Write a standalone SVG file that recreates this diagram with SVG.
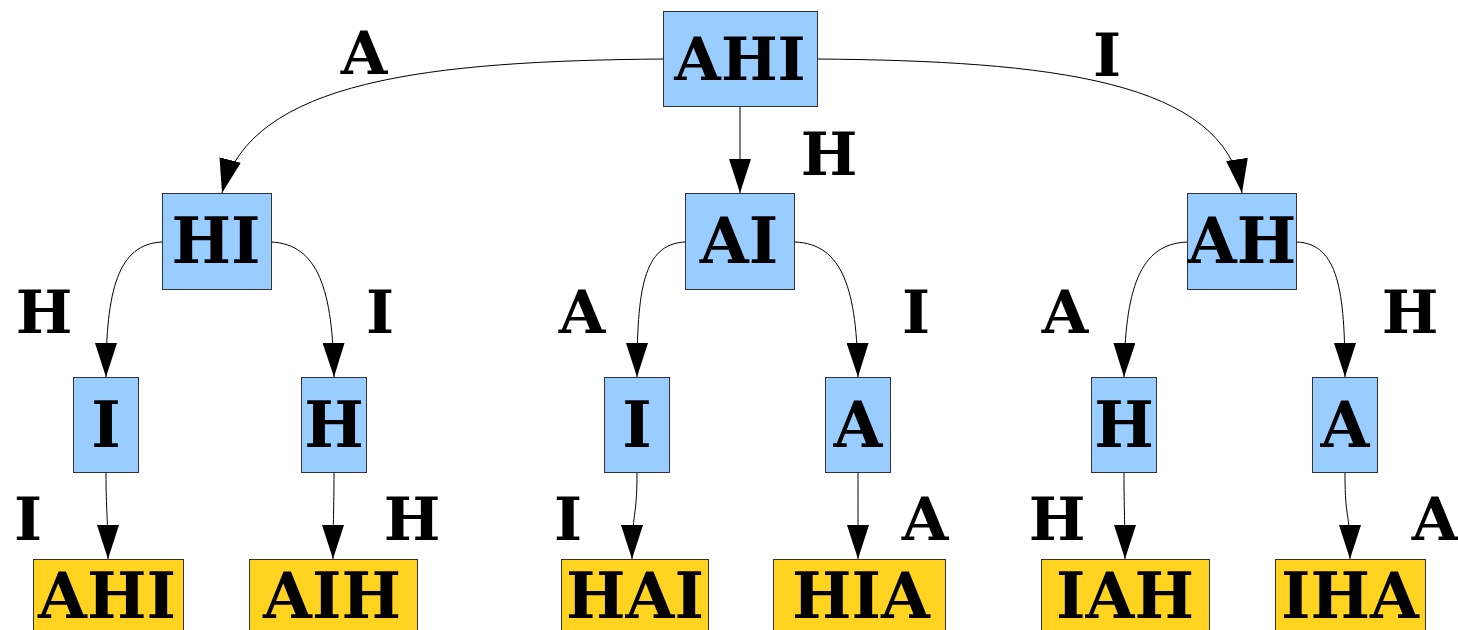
<svg xmlns="http://www.w3.org/2000/svg" width="1458" height="630" viewBox="0 0 1458 630">
  <style>
    .n rect { fill: #99ccff; stroke: #333; stroke-width: 1; }
    .leaf rect { fill: #ffd320; stroke: #333; stroke-width: 1; }
    text { font-family: "DejaVu Serif", serif; font-weight: bold; font-size: 63px; fill: #000; text-anchor: middle; }
    #labels text, #n-AHI text { font-size: 60px; }
    .e path { fill: none; stroke: #000; stroke-width: 1; marker-end: url(#ah); }
  </style>
  <defs>
    <marker id="ah" viewBox="0 0 34 22" refX="34" refY="11" markerWidth="34" markerHeight="22" markerUnits="userSpaceOnUse" orient="auto">
      <path d="M0,0 L34,11 L0,22 Z" fill="#000"/>
    </marker>
  </defs>
  <rect width="1458" height="630" fill="#fff"/>

  <!-- connectors -->
  <g id="edges" class="e">
    <path d="M663,59 C430,61 250,80 222,193"/>
    <path d="M740,107 L740,193"/>
    <path d="M817,59 C1050,61 1225,80 1242,193"/>

    <path d="M162,242 C118,244 106,290 106,377"/>
    <path d="M271,242 C318,244 333,290 334,377"/>
    <path d="M685,242 C643,244 637,290 637,377"/>
    <path d="M795,242 C843,244 857,290 858,377"/>
    <path d="M1187,242 C1139,244 1125,290 1124,377"/>
    <path d="M1297,242 C1338,244 1345,290 1345,377"/>

    <path d="M106,473 C106,510 108,520 108,559"/>
    <path d="M334,473 C334,510 333,520 333,559"/>
    <path d="M637,473 C637,520 632,510 632,559"/>
    <path d="M858,473 C858,510 858,520 858,559"/>
    <path d="M1124,473 C1124,510 1125,520 1125,559"/>
    <path d="M1345,473 C1345,525 1350,505 1350,559"/>
  </g>

  <!-- edge labels -->
  <g id="labels">
    <text x="364" y="74">A</text>
    <text x="829" y="175">H</text>
    <text x="1107" y="76">I</text>
    <text x="44" y="333">H</text>
    <text x="380" y="333">I</text>
    <text x="582" y="333">A</text>
    <text x="916" y="333">I</text>
    <text x="1065" y="333">A</text>
    <text x="1410" y="333">H</text>
    <text x="28" y="540">I</text>
    <text x="412" y="540">H</text>
    <text x="568" y="540">I</text>
    <text x="925" y="540">A</text>
    <text x="1057" y="540">H</text>
    <text x="1435" y="540">A</text>
  </g>

  <!-- root -->
  <g id="n-AHI" class="n"><rect x="663.5" y="11.5" width="154" height="95"/><text x="740" y="80">AHI</text></g>

  <!-- second level -->
  <g id="n-HI" class="n"><rect x="162.5" y="193.5" width="109" height="96"/><text x="216" y="263">HI</text></g>
  <g id="n-AI" class="n"><rect x="685.5" y="193.5" width="109" height="96"/><text x="739" y="263">AI</text></g>
  <g id="n-AH" class="n"><rect x="1187.5" y="193.5" width="109" height="96"/><text x="1242" y="263">AH</text></g>

  <!-- third level -->
  <g id="n-HI-I" class="n"><rect x="73.5" y="377.5" width="65" height="95"/><text x="106" y="447">I</text></g>
  <g id="n-HI-H" class="n"><rect x="301.5" y="377.5" width="65" height="95"/><text x="334" y="447">H</text></g>
  <g id="n-AI-I" class="n"><rect x="604.5" y="377.5" width="65" height="95"/><text x="637" y="447">I</text></g>
  <g id="n-AI-A" class="n"><rect x="825.5" y="377.5" width="65" height="95"/><text x="858" y="447">A</text></g>
  <g id="n-AH-H" class="n"><rect x="1091.5" y="377.5" width="65" height="95"/><text x="1124" y="447">H</text></g>
  <g id="n-AH-A" class="n"><rect x="1312.5" y="377.5" width="65" height="95"/><text x="1345" y="447">A</text></g>

  <!-- leaves -->
  <g id="leaf-AHI" class="leaf"><rect x="33.5" y="559.5" width="150" height="90"/><text x="107" y="618">AHI</text></g>
  <g id="leaf-AIH" class="leaf"><rect x="249.5" y="559.5" width="168" height="90"/><text x="332" y="618">AIH</text></g>
  <g id="leaf-HAI" class="leaf"><rect x="561.5" y="559.5" width="147" height="90"/><text x="635" y="618">HAI</text></g>
  <g id="leaf-HIA" class="leaf"><rect x="773.5" y="559.5" width="172" height="90"/><text x="861" y="618">HIA</text></g>
  <g id="leaf-IAH" class="leaf"><rect x="1041.5" y="559.5" width="168" height="90"/><text x="1125" y="618">IAH</text></g>
  <g id="leaf-IHA" class="leaf"><rect x="1275.5" y="559.5" width="150" height="90"/><text x="1350" y="618">IHA</text></g>
</svg>
